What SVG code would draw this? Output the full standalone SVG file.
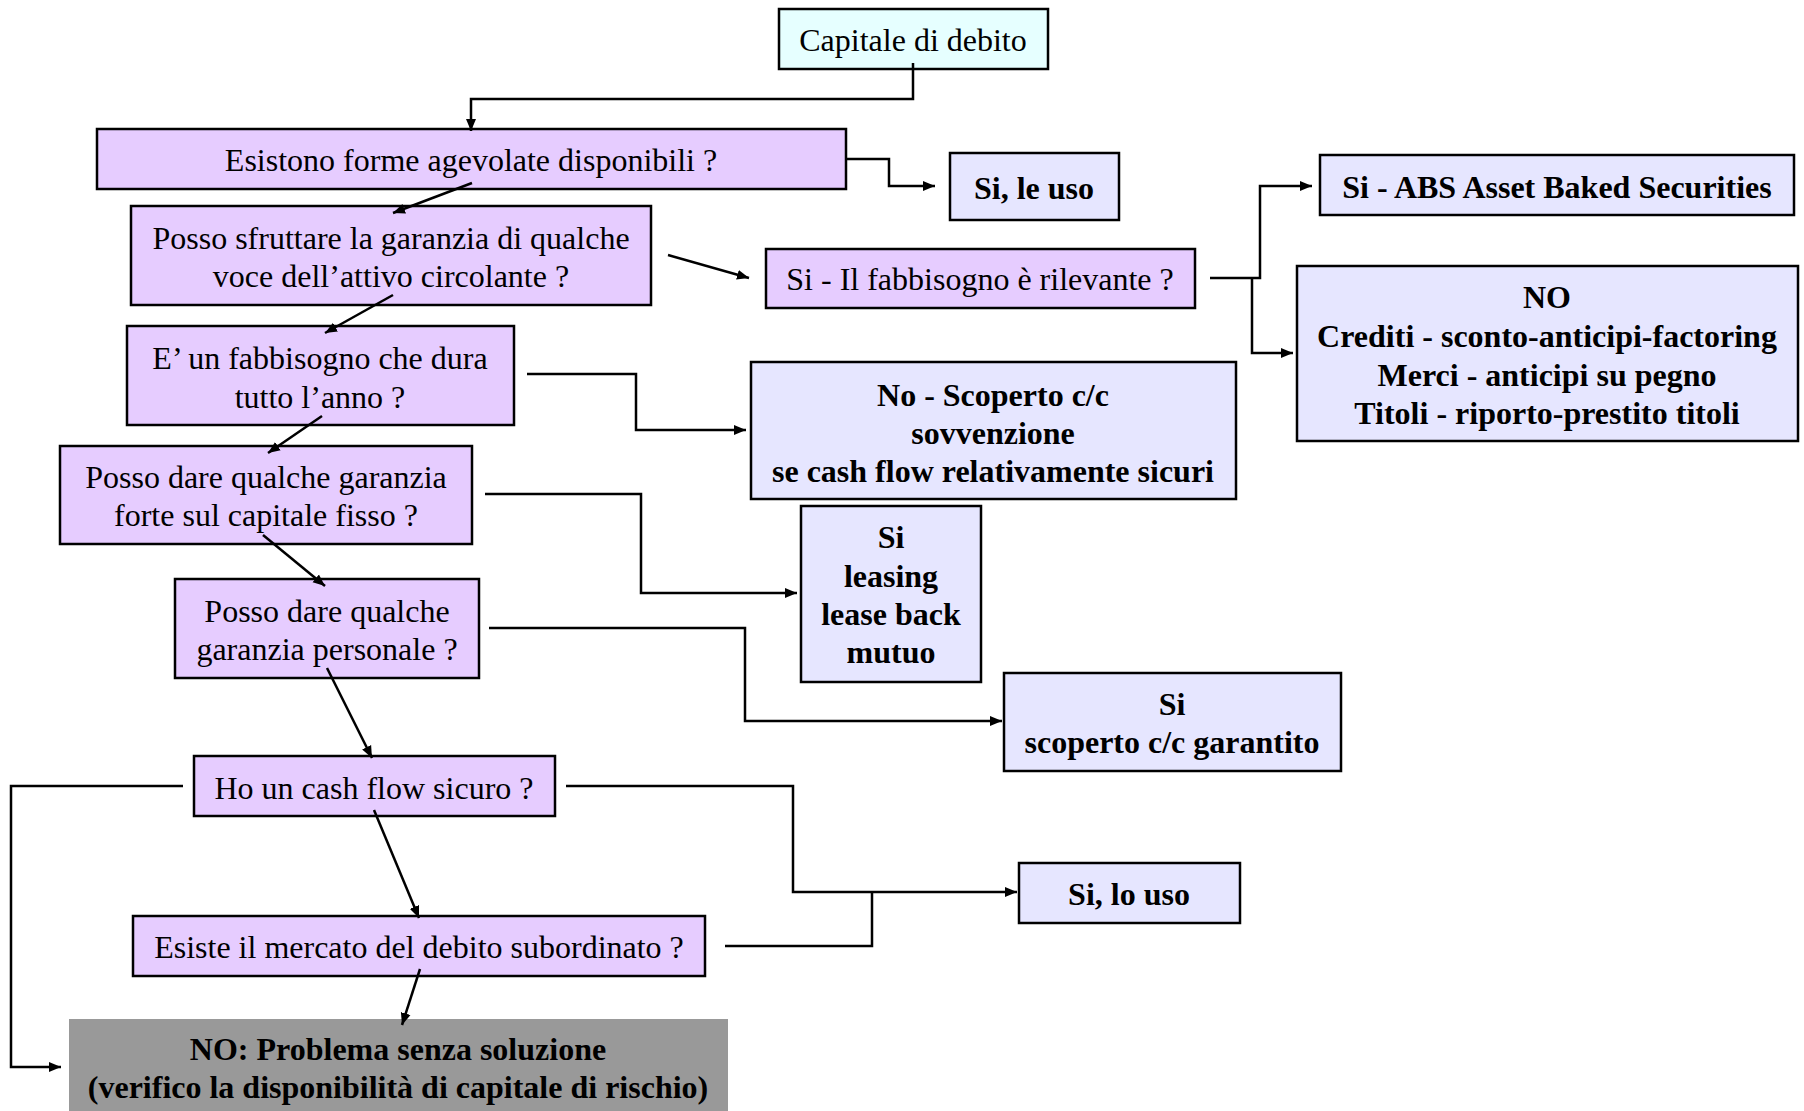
<svg xmlns="http://www.w3.org/2000/svg" width="1804" height="1111" viewBox="0 0 1804 1111">
<style>
  .box { stroke: #000; stroke-width: 2.5; }
  .q { fill: #E6CCFF; }
  .a { fill: #E6E6FF; }
  .s { fill: #E6FFFF; }
  .g { fill: #999999; stroke: none; }
  text { font-family: "Liberation Serif", "Times New Roman", serif; font-size: 32px; text-anchor: middle; fill: #000; }
  .b { font-weight: bold; }
  .c { fill: none; stroke: #000; stroke-width: 2.5; marker-end: url(#arr); }
</style>
<defs>
  <marker id="arr" markerUnits="userSpaceOnUse" markerWidth="14" markerHeight="12" refX="12" refY="6" orient="auto">
    <path d="M0,1 L12,6 L0,11 Z" fill="#000"/>
  </marker>
</defs>
<rect width="1804" height="1111" fill="#fff"/>

<g id="n-capitale">
  <rect class="box s" x="779" y="9" width="269" height="60"/>
  <text x="913" y="51">Capitale di debito</text>
</g>
<g id="n-esistono">
  <rect class="box q" x="97" y="129" width="749" height="60"/>
  <text x="471" y="171">Esistono forme agevolate disponibili ?</text>
</g>
<g id="n-si-le-uso">
  <rect class="box a" x="950" y="153" width="169" height="67"/>
  <text class="b" x="1034" y="199">Si, le uso</text>
</g>
<g id="n-posso-sfruttare">
  <rect class="box q" x="131" y="206" width="520" height="99"/>
  <text x="391" y="249">Posso sfruttare la garanzia di qualche</text>
  <text x="391" y="287">voce dell’attivo circolante ?</text>
</g>
<g id="n-rilevante">
  <rect class="box q" x="766" y="249" width="429" height="59"/>
  <text x="980" y="290">Si - Il fabbisogno è rilevante ?</text>
</g>
<g id="n-abs">
  <rect class="box a" x="1320" y="155" width="474" height="60"/>
  <text class="b" x="1557" y="198">Si - ABS Asset Baked Securities</text>
</g>
<g id="n-no-crediti">
  <rect class="box a" x="1297" y="266" width="501" height="175"/>
  <text class="b" x="1547" y="308">NO</text>
  <text class="b" x="1547" y="347">Crediti - sconto-anticipi-factoring</text>
  <text class="b" x="1547" y="386">Merci - anticipi su pegno</text>
  <text class="b" x="1547" y="424">Titoli - riporto-prestito titoli</text>
</g>
<g id="n-fabbisogno-anno">
  <rect class="box q" x="127" y="326" width="387" height="99"/>
  <text x="320" y="369">E’ un fabbisogno che dura</text>
  <text x="320" y="408">tutto l’anno ?</text>
</g>
<g id="n-scoperto">
  <rect class="box a" x="751" y="362" width="485" height="137"/>
  <text class="b" x="993" y="406">No - Scoperto c/c</text>
  <text class="b" x="993" y="444">sovvenzione</text>
  <text class="b" x="993" y="482">se cash flow relativamente sicuri</text>
</g>
<g id="n-garanzia-forte">
  <rect class="box q" x="60" y="446" width="412" height="98"/>
  <text x="266" y="488">Posso dare qualche garanzia</text>
  <text x="266" y="526">forte sul capitale fisso ?</text>
</g>
<g id="n-leasing">
  <rect class="box a" x="801" y="506" width="180" height="176"/>
  <text class="b" x="891" y="548">Si</text>
  <text class="b" x="891" y="587">leasing</text>
  <text class="b" x="891" y="625">lease back</text>
  <text class="b" x="891" y="663">mutuo</text>
</g>
<g id="n-garanzia-personale">
  <rect class="box q" x="175" y="579" width="304" height="99"/>
  <text x="327" y="622">Posso dare qualche</text>
  <text x="327" y="660">garanzia personale ?</text>
</g>
<g id="n-garantito">
  <rect class="box a" x="1004" y="673" width="337" height="98"/>
  <text class="b" x="1172" y="715">Si</text>
  <text class="b" x="1172" y="753">scoperto c/c garantito</text>
</g>
<g id="n-cash-flow">
  <rect class="box q" x="194" y="756" width="361" height="60"/>
  <text x="374" y="799">Ho un cash flow sicuro ?</text>
</g>
<g id="n-lo-uso">
  <rect class="box a" x="1019" y="863" width="221" height="60"/>
  <text class="b" x="1129" y="905">Si, lo uso</text>
</g>
<g id="n-subordinato">
  <rect class="box q" x="133" y="916" width="572" height="60"/>
  <text x="419" y="958">Esiste il mercato del debito subordinato ?</text>
</g>
<g id="n-problema">
  <rect class="g" x="69" y="1019" width="659" height="92"/>
  <text class="b" x="398" y="1060">NO: Problema senza soluzione</text>
  <text class="b" x="398" y="1098">(verifico la disponibilità di capitale di rischio)</text>
</g>

<g id="connectors">
  <path class="c" d="M913,63 V99 H471 V131"/>
  <path class="c" d="M846,159 H889 V186 H935"/>
  <path class="c" d="M472,183 L393,213"/>
  <path class="c" d="M668,255 L749,278"/>
  <path class="c" d="M393,295 L325,333"/>
  <path class="c" d="M322,416 L268,453"/>
  <path class="c" d="M263,535 L325,586"/>
  <path class="c" d="M327,668 L372,758"/>
  <path class="c" d="M374,810 L419,918"/>
  <path class="c" d="M420,969 L402,1025"/>
  <path class="c" d="M183,786 H11 V1067 H61"/>
  <path class="c" d="M566,786 H793 V892 H1017"/>
  <path fill="none" stroke="#000" stroke-width="2.5" d="M725,946 H872 V892"/>
  <path class="c" d="M527,374 H636 V430 H746"/>
  <path class="c" d="M485,494 H641 V593 H797"/>
  <path class="c" d="M489,628 H745 V721 H1002"/>
  <path class="c" d="M1210,278 H1260 V186 H1312"/>
  <path class="c" d="M1252,278 V353 H1293"/>
</g>
</svg>
